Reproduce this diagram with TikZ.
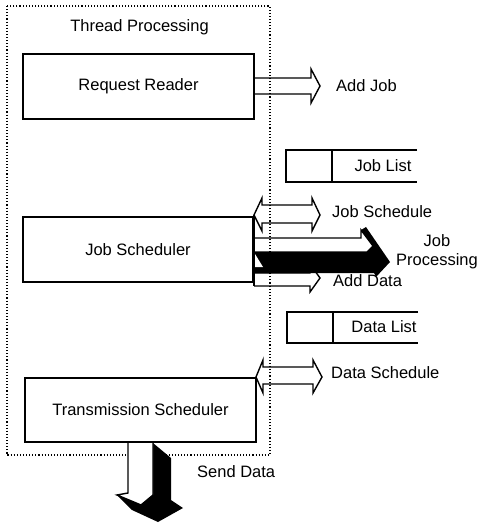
\documentclass[tikz,border=0pt]{standalone}
\usepackage{fontspec}
\setmainfont{Liberation Sans}
\begin{document}
\begin{tikzpicture}[x=1pt,y=-1pt,
  lbl/.style={inner sep=0pt,font=\fontsize{16.5}{19}\selectfont},
  procbox/.style={draw,line width=1.5pt,inner sep=0pt},
  blk/.style={line width=1.4pt,line join=miter},
  frame/.style={dotted,line width=1.1pt}]
\useasboundingbox (0,0) rectangle (481,525);
% dotted frame
\draw[frame] (7,6) rectangle (270,455);
\node[lbl] (title) at (139.5,27) {Thread Processing};
% process boxes
\node[procbox,minimum width=231pt,minimum height=65pt] (rr) at (138.5,86.5) {};
\node[lbl] at (rr.center) {Request Reader};
\node[procbox,minimum width=230pt,minimum height=65pt] (js) at (138,249.5) {};
\node[lbl] at (js.center) {Job Scheduler};
\node[procbox,minimum width=231pt,minimum height=64pt] (ts) at (140.5,410) {};
\node[lbl] at (ts.center) {Transmission Scheduler};
% lists
\draw[blk] (417,150) -- (286,150) -- (286,182) -- (417,182);
\draw[blk] (332,150) -- (332,182);
\node[lbl] (joblist) at (383,166) {Job List};
\draw[blk] (418,312) -- (287,312) -- (287,343) -- (418,343);
\draw[blk] (333,312) -- (333,343);
\node[lbl] (datalist) at (384,327) {Data List};
% Add Job arrow
\draw[blk] (254,78) -- (311,78) -- (311,69) -- (320,86) -- (311,103) -- (311,94) -- (254,94);
\node[lbl,anchor=west] (addjob) at (336,86) {Add Job};
% Job Schedule double arrow
\draw[blk] (254,215) -- (262,198) -- (262,205) -- (312,205) -- (312,198) -- (320,215)
  -- (312,231) -- (312,223) -- (262,223) -- (262,231) -- cycle;
\node[lbl,anchor=west] (jsched) at (332,212) {Job Schedule};
% right edge extension
\draw[blk] (254,215) -- (254,286);
% Job Processing 3D arrow
\fill[black] (254,252) -- (367,252) -- (373,246) -- (361,230) -- (366,227) -- (390,262)
  -- (376,277) -- (374,273) -- (254,273) -- cycle;
\fill[white] (255,254) -- (263,267) -- (255,267) -- cycle;
\draw[blk] (254,252) -- (254,238) -- (361,238) -- (361,230) -- (373,246) -- (367,252) -- (254,252);
\node[lbl,align=center] (jp) at (437,252) {Job\\Processing};
% Add Data arrow
\draw[blk] (254,273) -- (310,273) -- (310,264) -- (320,278) -- (310,292) -- (310,286) -- (254,286);
\node[lbl,anchor=west] (adddata) at (333,281) {Add Data};
% Data Schedule double arrow
\draw[blk] (256,377) -- (263,360) -- (263,367) -- (313,367) -- (313,360) -- (322,377)
  -- (313,393) -- (313,384) -- (263,384) -- (263,393) -- cycle;
\node[lbl,anchor=west] (dsched) at (331,373) {Data Schedule};
% Send Data 3D arrow
\fill[black] (153,443) -- (171,458) -- (171,500) -- (183,508) -- (158,522) -- (132,510)
  -- (117,495) -- (128,493) -- (153,493) -- cycle;
\fill[white] (128,443) -- (153,443) -- (153,495) -- (141,505) -- (117,495) -- (128,493) -- cycle;
\draw[blk] (128,443) -- (128,493) -- (117,495) -- (141,505) -- (153,495) -- (153,443);
\node[lbl,anchor=west] (senddata) at (197,472) {Send Data};
\end{tikzpicture}
\end{document}
